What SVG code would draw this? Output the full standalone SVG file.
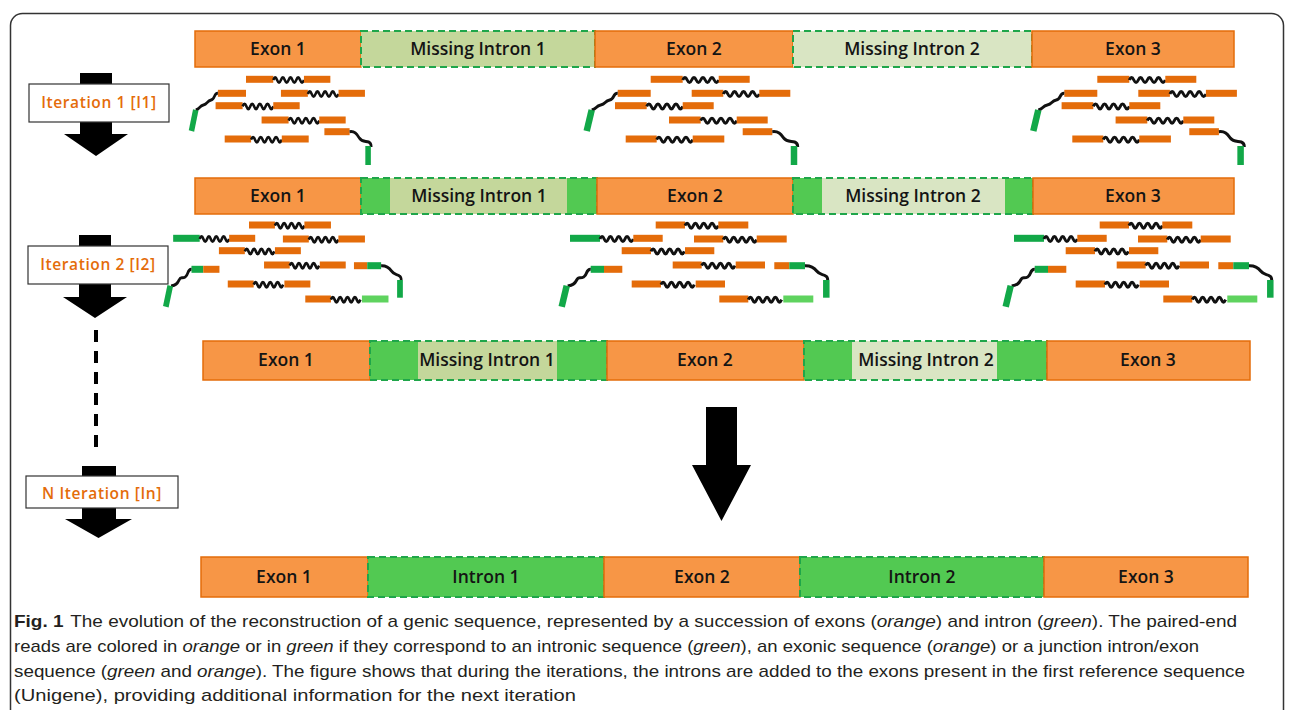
<svg xmlns="http://www.w3.org/2000/svg" xmlns:xlink="http://www.w3.org/1999/xlink" width="1292" height="710" viewBox="0 0 1292 710">
<style>
.ex{fill:#f79646;stroke:#e46c0a;stroke-width:1.5}
.inb{fill:none;stroke:#1fa64a;stroke-width:2;stroke-dasharray:7 4}
.gr{fill:#52c952}
.l1{fill:#c4d79b}
.l2{fill:#d9e5c3}
.lbl{font-family:"Open Sans","Liberation Sans",sans-serif;font-weight:600;font-size:17.5px;fill:#141414;text-anchor:middle}
.it{font-family:"Open Sans","Liberation Sans",sans-serif;font-weight:600;font-size:15.5px;fill:#e46c0a;text-anchor:middle;letter-spacing:0.6px}
.box{fill:#fff;stroke:#333;stroke-width:1.2}
.o{fill:#e46c0a}
.g{fill:#12a848}
.lg{fill:#5fd35f}
.cn{fill:none;stroke:#111;stroke-width:3}
.gb{stroke:#12a848;stroke-width:6.5}
.cap{font-family:"Liberation Sans",Arial,sans-serif;font-size:17px;fill:#231f20}
</style>
<defs>
<path id="w36" d="M0,0q2.25,-5 4.5,0t4.5,0t4.5,0t4.5,0t4.5,0t4.5,0t4.5,0t4.5,0" fill="none" stroke="#111" stroke-width="3"/>
<path id="w33" d="M0,0q2.08,-5 4.16,0t4.16,0t4.16,0t4.16,0t4.16,0t4.16,0t4.16,0t4.16,0" fill="none" stroke="#111" stroke-width="3"/>
<g id="c1">
 <rect class="o" x="0" y="75.8" width="32" height="7"/><use href="#w36" x="32" y="80"/><rect class="o" x="68" y="75.8" width="31" height="7"/>
 <rect class="o" x="-33" y="89.8" width="33" height="7"/>
 <path class="cn" d="M-33,93.3 C-38,93 -36,99 -41,100 C-46,101 -45,104 -50,105 C-55,106 -54,109 -59,110"/>
 <line class="gb" x1="-59" y1="110" x2="-64" y2="131"/>
 <rect class="o" x="41" y="89.8" width="31.6" height="7"/><use href="#w36" x="72.6" y="94"/><rect class="o" x="108.6" y="89.8" width="31" height="7"/>
 <rect class="o" x="-35.7" y="102.2" width="31.7" height="7"/><use href="#w36" x="-4" y="106.4"/><rect class="o" x="32" y="102.2" width="31" height="7"/>
 <rect class="o" x="18.3" y="116.5" width="31.7" height="7"/><use href="#w36" x="50" y="120.7"/><rect class="o" x="86" y="116.5" width="31" height="7"/>
 <rect class="o" x="92" y="128.2" width="29.6" height="7"/>
 <path class="cn" d="M121.6,131.7 C128,131 130,134 133,138 C136,142 140,141 144,142 C147,143 147,145 147,147"/>
 <line class="gb" x1="143.3" y1="146" x2="143.3" y2="165"/>
 <rect class="o" x="-25" y="135.5" width="31" height="7"/><use href="#w36" x="6" y="139.7"/><rect class="o" x="42" y="135.5" width="31.6" height="7"/>
</g>
<g id="c2">
 <rect class="o" x="0" y="221.5" width="29.3" height="7"/><use href="#w33" x="29.3" y="225.7"/><rect class="o" x="62.6" y="221.5" width="30" height="7"/>
 <rect class="g" x="-85.7" y="234.8" width="30" height="7"/><use href="#w33" x="-55.7" y="239"/><rect class="o" x="-22.4" y="234.8" width="29.4" height="7"/>
 <rect class="o" x="38.3" y="235.5" width="29.3" height="7"/><use href="#w33" x="67.6" y="239.7"/><rect class="o" x="101" y="235.5" width="30" height="7"/>
 <rect class="o" x="-34" y="247.2" width="29.3" height="7"/><use href="#w33" x="-4.7" y="251.4"/><rect class="o" x="29.3" y="247.2" width="29.3" height="7"/>
 <rect class="o" x="17" y="261.5" width="29" height="7"/><use href="#w33" x="46" y="265.7"/><rect class="o" x="80" y="261.5" width="29.3" height="7"/>
 <rect class="g" x="-65" y="265.8" width="13.3" height="7"/><rect class="o" x="-51.7" y="265.8" width="18.3" height="7"/>
 <path class="cn" d="M-65,269.3 C-70,269 -68,275 -72,277 C-76,279 -77,276 -79,280 C-81,284 -83,285 -88,286"/>
 <line class="gb" x1="-89" y1="285.7" x2="-94" y2="306.7"/>
 <rect class="o" x="-24" y="280.5" width="29.3" height="7"/><use href="#w33" x="5.3" y="284.7"/><rect class="o" x="40" y="280.5" width="29.3" height="7"/>
 <rect class="o" x="118.6" y="262.2" width="15" height="7"/><rect class="g" x="133.6" y="262.2" width="15.7" height="7"/>
 <path class="cn" d="M149.3,265.7 C155,265.5 158,267 161,271 C164,275 167,274 170,276 C172,277 172,278 172,280"/>
 <line class="gb" x1="170.6" y1="280" x2="170.6" y2="297.7"/>
 <rect class="o" x="63.6" y="295.5" width="29" height="7"/><use href="#w33" x="92.6" y="299.7"/><rect class="lg" x="127.6" y="295.5" width="30" height="7"/>
</g>
</defs>
<rect x="10.5" y="13.5" width="1273" height="730" rx="12" fill="#fff" stroke="#333" stroke-width="1.5"/>

<g id="connectors">
 <polygon points="80,73 112,73 112,134 128,134 96,156 64,134 80,134" fill="#000"/>
 <polygon points="79,235 111,235 111,297 127,297 95,318 63,297 79,297" fill="#000"/>
 <line x1="96" y1="330" x2="96" y2="455" stroke="#000" stroke-width="4" stroke-dasharray="12 9"/>
 <polygon points="82,466 116,466 116,519 132,519 98.5,538 65,519 82,519" fill="#000"/>
 <polygon points="706,407 737,407 737,465 751,465 721.5,521 692,465 706,465" fill="#000"/>
</g>

<g id="iter1"><rect class="box" x="29" y="84" width="140" height="38"/><text class="it" x="99" y="108">Iteration 1 [I1]</text></g>
<g id="iter2"><rect class="box" x="28" y="246" width="140" height="38"/><text class="it" x="98" y="270">Iteration 2 [I2]</text></g>
<g id="iterN"><rect class="box" x="26" y="476" width="152" height="32"/><text class="it" x="102" y="499">N Iteration [In]</text></g>

<g id="seq1">
 <rect class="ex" x="195" y="31" width="166" height="36"/>
 <rect class="l1" x="361" y="31" width="234" height="36"/><rect class="inb" x="361" y="31" width="234" height="36"/>
 <rect class="ex" x="595" y="31" width="198" height="36"/>
 <rect class="l2" x="793" y="31" width="239" height="36"/><rect class="inb" x="793" y="31" width="239" height="36"/>
 <rect class="ex" x="1032" y="31" width="202" height="36"/>
 <text class="lbl" x="278" y="55">Exon 1</text>
 <text class="lbl" x="478" y="55">Missing Intron 1</text>
 <text class="lbl" x="694" y="55">Exon 2</text>
 <text class="lbl" x="912" y="55">Missing Intron 2</text>
 <text class="lbl" x="1133" y="55">Exon 3</text>
</g>
<g id="reads1">
 <use href="#c1" transform="translate(246,0) scale(0.852,1)"/>
 <use href="#c1" transform="translate(650.7,0)"/>
 <use href="#c1" transform="translate(1097.3,0)"/>
</g>

<g id="seq2">
 <rect class="ex" x="195" y="178" width="166" height="36"/>
 <rect class="gr" x="361" y="178" width="236" height="36"/><rect class="l1" x="390" y="178" width="177" height="36"/><rect class="inb" x="361" y="178" width="236" height="36"/>
 <rect class="ex" x="597" y="178" width="196" height="36"/>
 <rect class="gr" x="793" y="178" width="240" height="36"/><rect class="l2" x="822" y="178" width="183" height="36"/><rect class="inb" x="793" y="178" width="240" height="36"/>
 <rect class="ex" x="1033" y="178" width="201" height="36"/>
 <text class="lbl" x="278" y="202">Exon 1</text>
 <text class="lbl" x="479" y="202">Missing Intron 1</text>
 <text class="lbl" x="695" y="202">Exon 2</text>
 <text class="lbl" x="913" y="202">Missing Intron 2</text>
 <text class="lbl" x="1133" y="202">Exon 3</text>
</g>
<g id="reads2">
 <use href="#c2" transform="translate(249,0) scale(0.885,1)"/>
 <use href="#c2" transform="translate(655.7,0)"/>
 <use href="#c2" transform="translate(1099.7,0)"/>
</g>

<g id="seq3">
 <rect class="ex" x="203" y="341" width="167" height="39"/>
 <rect class="gr" x="370" y="341" width="237" height="39"/><rect class="l1" x="418" y="341" width="139" height="39"/><rect class="inb" x="370" y="341" width="237" height="39"/>
 <rect class="ex" x="607" y="341" width="197" height="39"/>
 <rect class="gr" x="804" y="341" width="243" height="39"/><rect class="l2" x="852" y="341" width="145" height="39"/><rect class="inb" x="804" y="341" width="243" height="39"/>
 <rect class="ex" x="1047" y="341" width="203" height="39"/>
 <text class="lbl" x="286" y="366">Exon 1</text>
 <text class="lbl" x="487" y="366">Missing Intron 1</text>
 <text class="lbl" x="705" y="366">Exon 2</text>
 <text class="lbl" x="926" y="366">Missing Intron 2</text>
 <text class="lbl" x="1148" y="366">Exon 3</text>
</g>

<g id="seq4">
 <rect class="ex" x="201" y="557" width="167" height="40"/>
 <rect class="gr" x="368" y="557" width="236" height="40"/><rect class="inb" x="368" y="557" width="236" height="40"/>
 <rect class="ex" x="604" y="557" width="196" height="40"/>
 <rect class="gr" x="800" y="557" width="244" height="40"/><rect class="inb" x="800" y="557" width="244" height="40"/>
 <rect class="ex" x="1044" y="557" width="204" height="40"/>
 <text class="lbl" x="284" y="583">Exon 1</text>
 <text class="lbl" x="486" y="583">Intron 1</text>
 <text class="lbl" x="702" y="583">Exon 2</text>
 <text class="lbl" x="922" y="583">Intron 2</text>
 <text class="lbl" x="1146" y="583">Exon 3</text>
</g>

<g id="caption" class="cap">
 <text x="14" y="627" textLength="1223" lengthAdjust="spacingAndGlyphs"><tspan font-weight="bold">Fig. 1</tspan><tspan dx="6">The evolution of the reconstruction of a genic sequence, represented by a succession of exons (</tspan><tspan font-style="italic">orange</tspan>) and intron (<tspan font-style="italic">green</tspan>). The paired-end</text>
 <text x="14" y="652" textLength="1185" lengthAdjust="spacingAndGlyphs">reads are colored in <tspan font-style="italic">orange</tspan> or in <tspan font-style="italic">green</tspan> if they correspond to an intronic sequence (<tspan font-style="italic">green</tspan>), an exonic sequence (<tspan font-style="italic">orange</tspan>) or a junction intron/exon</text>
 <text x="14" y="677" textLength="1231" lengthAdjust="spacingAndGlyphs">sequence (<tspan font-style="italic">green</tspan> and <tspan font-style="italic">orange</tspan>). The figure shows that during the iterations, the introns are added to the exons present in the first reference sequence</text>
 <text x="14" y="701" textLength="562" lengthAdjust="spacingAndGlyphs">(Unigene), providing additional information for the next iteration</text>
</g>
</svg>
